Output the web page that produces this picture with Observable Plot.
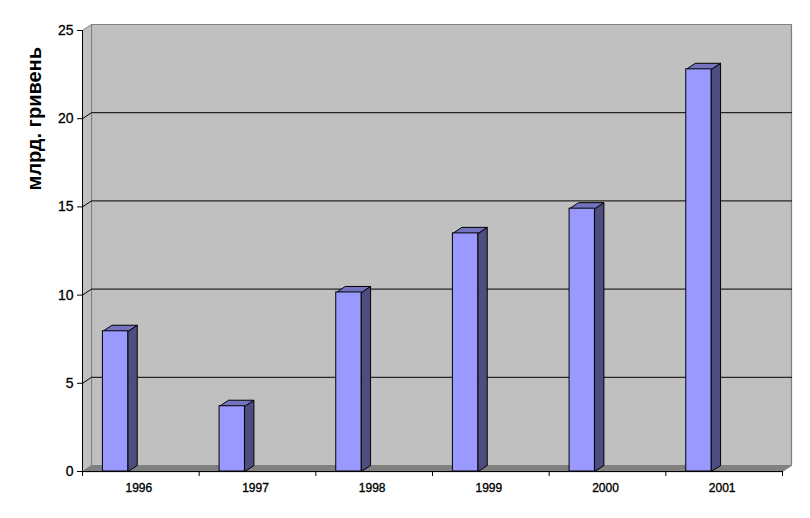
<!DOCTYPE html>
<html><head><meta charset="utf-8">
<style>html,body{margin:0;background:#fff}svg{display:block}</style>
<script src="https://cdn.jsdelivr.net/npm/d3@7"></script>
<script src="https://cdn.jsdelivr.net/npm/@observablehq/plot@0.6"></script>
</head><body><script>
const years = [1996, 1997, 1998, 1999, 2000, 2001];
const values = [7.95, 3.7, 10.15, 13.5, 14.9, 22.8];
const yTicks = [0, 5, 10, 15, 20, 25];
const gridTicks = [5, 10, 15, 20];
const axisTitle = "млрд. гривень";

// chart depth expressed in scale units
const dX = 9 / (700 / years.length), dY = 6 / (441 / 25);
const barStart = 0.175, barWidth = 0.217;
const n = years.length, yMax = 25;

const poly = (id, pts) => pts.map(([x, y]) => ({id, x, y}));
const bars = years.map((year, i) => ({year, value: values[i], x1: i + barStart, x2: i + barStart + barWidth}));
const side = bars.flatMap(b => poly(b.year, [[b.x2, 0], [b.x2 + dX, dY], [b.x2 + dX, b.value + dY], [b.x2, b.value]]));
const cap = bars.flatMap(b => poly(b.year, [[b.x1, b.value], [b.x1 + dX, b.value + dY], [b.x2 + dX, b.value + dY], [b.x2, b.value]]));
const grid = gridTicks.flatMap(v => poly(v, [[0, v], [dX, v + dY], [n + dX, v + dY]]));

const closed = {x: "x", y: "y", z: "id", curve: "linear-closed", strokeWidth: 1};
const chart = Plot.plot({
  width: 810, height: 518,
  marginLeft: 82, marginRight: 28, marginTop: 30, marginBottom: 47,
  style: {background: "#fff", fontFamily: "'Liberation Sans', Arial, sans-serif", color: "#000"},
  x: {domain: [0, n], axis: null},
  y: {domain: [0, yMax], axis: null},
  marks: [
    Plot.line(poly("back", [[dX, dY], [dX, yMax + dY], [n + dX, yMax + dY], [n + dX, dY]]), {...closed, fill: "#c0c0c0", stroke: "#808080", strokeWidth: 1.2}),
    Plot.line(poly("left", [[0, 0], [0, yMax], [dX, yMax + dY], [dX, dY]]), {...closed, fill: "#c0c0c0", stroke: "#808080"}),
    Plot.line(poly("floor", [[0, 0], [dX, dY], [n + dX, dY], [n, 0]]), {...closed, fill: "#808080", stroke: "#808080"}),
    Plot.line(grid, {x: "x", y: "y", z: "id", stroke: "#000", strokeWidth: 1}),
    Plot.line(side, {...closed, fill: "#4d4d80", stroke: "#000"}),
    Plot.line(cap, {...closed, fill: "#7373bf", stroke: "#000"}),
    Plot.rect(bars, {x1: "x1", x2: "x2", y1: 0, y2: "value", fill: "#9999ff", stroke: "#000", strokeWidth: 1, inset: 0}),
    Plot.ruleY([0], {stroke: "#000", strokeWidth: 1}),
    Plot.ruleX([0], {stroke: "#000", strokeWidth: 1}),
    Plot.axisY({ticks: yTicks, tickSize: 5, tickPadding: 4, label: null, fontSize: 14, stroke: "#000", textStroke: "#000", textStrokeWidth: 0.3, tickFormat: d => d}),
    Plot.axisX({ticks: d3.range(n + 1), tickSize: 5, tickFormat: () => "", label: null, stroke: "#000"}),
    Plot.text(bars, {x: d => d.x1 - barStart + 0.5, y: 0, text: d => String(d.year), dx: -2, dy: 17, fontSize: 12, fill: "#000", stroke: "#000", strokeWidth: 0.35}),
    Plot.text([axisTitle], {x: 0, y: 20, dx: -48, rotate: -90, fontSize: 20, fontWeight: "bold", fill: "#000"})
  ]
});
document.body.append(chart);
</script></body></html>
